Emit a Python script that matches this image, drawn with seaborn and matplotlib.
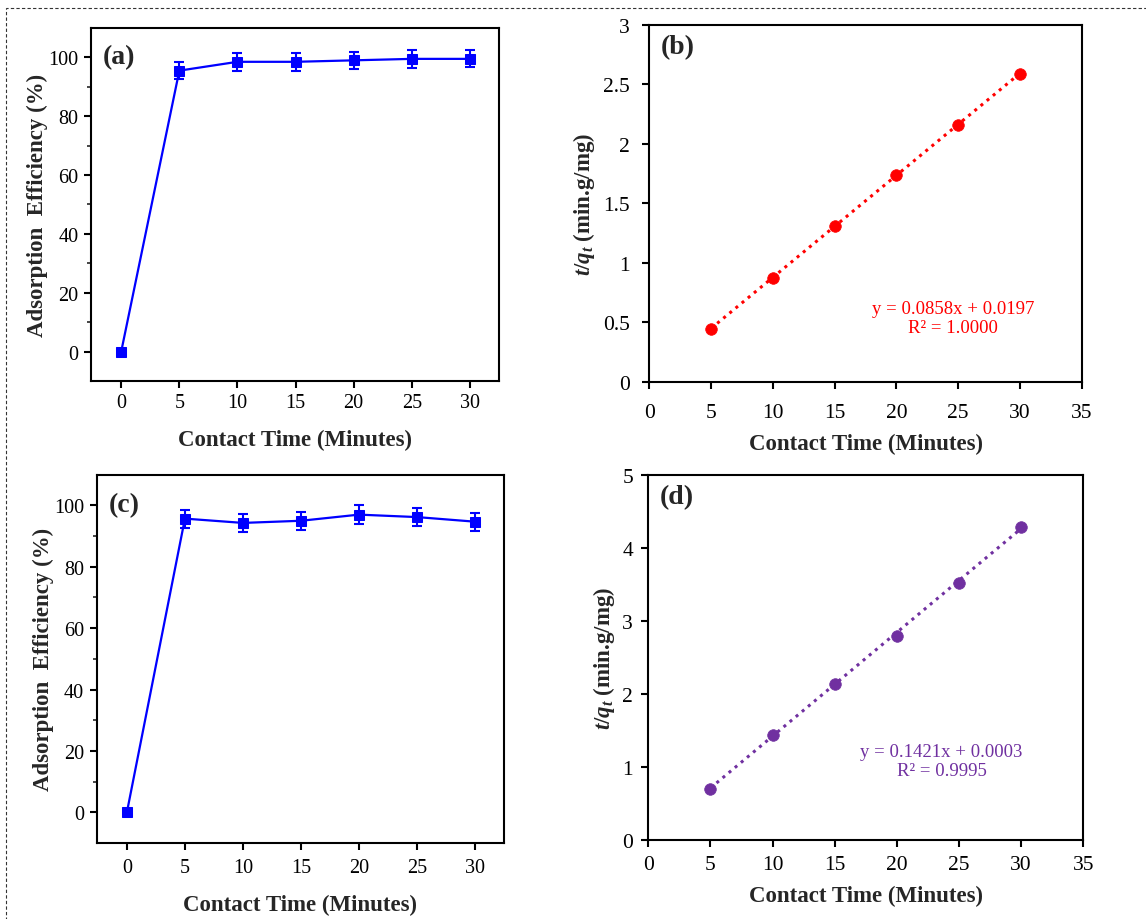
import numpy as np
import pandas as pd
import matplotlib
matplotlib.use("Agg")
import matplotlib.pyplot as plt
import seaborn as sns
from matplotlib.patches import Rectangle

# dados
tempo = [0, 5, 10, 15, 20, 25, 30]
eficiencia_a = [0, 95.5, 98.5, 98.5, 99.0, 99.5, 99.5]
erro_a = [0, 2.8, 3.0, 3.0, 3.0, 3.0, 2.9]
eficiencia_c = [0, 95.7, 94.3, 95.0, 97.0, 96.2, 94.7]
erro_c = [0, 2.9, 3.0, 2.9, 3.1, 3.0, 2.9]

tempo_cin = [5, 10, 15, 20, 25, 30]
tq_b = [0.443, 0.870, 1.306, 1.738, 2.160, 2.590]
tq_d = [0.700, 1.437, 2.135, 2.797, 3.515, 4.280]

ajuste_b = (0.0858, 0.0197, "1.0000")
ajuste_d = (0.1421, 0.0003, "0.9995")

sns.set_theme(style="ticks")
plt.rcParams['font.family'] = ['Liberation Serif', 'DejaVu Serif']
plt.rcParams['mathtext.fontset'] = 'custom'
plt.rcParams['mathtext.rm'] = 'Liberation Serif:bold'
plt.rcParams['mathtext.it'] = 'Liberation Serif:italic:bold'
plt.rcParams['mathtext.bf'] = 'Liberation Serif:bold'

fig = plt.figure(figsize=(11.46, 9.2), dpi=100)
ax_a = fig.add_axes([0.0794, 0.5848, 0.356, 0.3837])
ax_b = fig.add_axes([0.5666, 0.5840, 0.3773, 0.3877])
ax_c = fig.add_axes([0.0844, 0.0826, 0.3554, 0.4003])
ax_d = fig.add_axes([0.5657, 0.0859, 0.3796, 0.3970])

label_fs = 16.5


def estilo(ax, fs, padx, pady):
    for s in ax.spines.values():
        s.set_linewidth(1.5)
        s.set_color('black')
    ax.tick_params(direction='out', length=5, width=1.5, labelsize=fs, colors='black')
    ax.tick_params(axis='x', pad=padx)
    ax.tick_params(axis='y', pad=pady)
    ax.tick_params(which='minor', direction='out', length=3, width=1.2)


def eficiencia(ax, y, err, letra, padx):
    df = pd.DataFrame({'t': tempo, 'y': y})
    ax.errorbar(tempo, y, yerr=err, fmt='none', ecolor='#0000FF',
                elinewidth=1.5, capsize=3.5, capthick=1.5, zorder=2)
    sns.lineplot(data=df, x='t', y='y', ax=ax, color='#0000FF', linewidth=1.6,
                 marker='s', markersize=6.5, markeredgecolor='#0000FF', zorder=3)
    ax.set_xlim(-2.6, 32.5)
    ax.set_ylim(-10, 110)
    ax.set_xticks(range(0, 31, 5))
    ax.set_yticks(range(0, 101, 20))
    ax.set_yticks(range(10, 101, 20), minor=True)
    estilo(ax, 14.5, padx, 4)
    ax.set_xlabel('Contact Time (Minutes)', fontsize=label_fs, fontweight='bold', labelpad=12)
    ax.set_ylabel('Adsorption  Efficiency (%)', fontsize=label_fs, fontweight='bold', labelpad=0)
    ax.text(0.03, 0.92, letra, transform=ax.transAxes, fontsize=20,
            fontweight='bold', ha='left', va='center')


def cinetica(ax, y, ajuste, cor, ymax, ystep, pos_txt, letra, padx, pady):
    a, b, r2 = ajuste
    df = pd.DataFrame({'t': tempo_cin, 'y': y})
    xl = np.array([tempo_cin[0], tempo_cin[-1]])
    ax.plot(xl, a * xl + b, linestyle=(0, (1, 1.6)), color=cor, linewidth=2.2, zorder=2)
    sns.scatterplot(data=df, x='t', y='y', ax=ax, color=cor, s=70,
                    edgecolor=cor, linewidth=0.5, zorder=3)
    ax.set_xlim(0, 35)
    ax.set_ylim(0, ymax)
    ax.set_xticks(range(0, 36, 5))
    ax.set_yticks(np.arange(0, ymax + 0.01, ystep))
    ax.yaxis.set_major_formatter(plt.FormatStrFormatter('%g'))
    estilo(ax, 15.5, padx, pady)
    ax.set_xlabel('Contact Time (Minutes)', fontsize=label_fs, fontweight='bold', labelpad=8)
    ax.set_ylabel(r'$t/q_t$ (min.g/mg)', fontsize=label_fs, fontweight='bold', labelpad=4)
    ax.text(pos_txt[0], pos_txt[1], f'y = {a:.4f}x + {b:.4f}\nR² = {r2}',
            fontsize=13.5, color=cor, ha='center', va='center', linespacing=1.15)
    ax.text(0.027, 0.94, letra, transform=ax.transAxes, fontsize=20,
            fontweight='bold', ha='left', va='center')


eficiencia(ax_a, eficiencia_a, erro_a, '(a)', 4)
eficiencia(ax_c, eficiencia_c, erro_c, '(c)', 6)
cinetica(ax_b, tq_b, ajuste_b, '#FF0000', 3, 0.5, (24.6, 0.535), '(b)', 10, 9)
cinetica(ax_d, tq_d, ajuste_d, '#7030A0', 5, 1, (23.6, 1.085), '(d)', 6, 6)

# moldura tracejada
fig.patches.append(Rectangle((0.0052, -0.1), 1.2, 1.0902, transform=fig.transFigure,
                             fill=False, edgecolor='#333333', linestyle=(0, (3, 2)),
                             linewidth=0.8))

fig.savefig('out.png', dpi=100)
